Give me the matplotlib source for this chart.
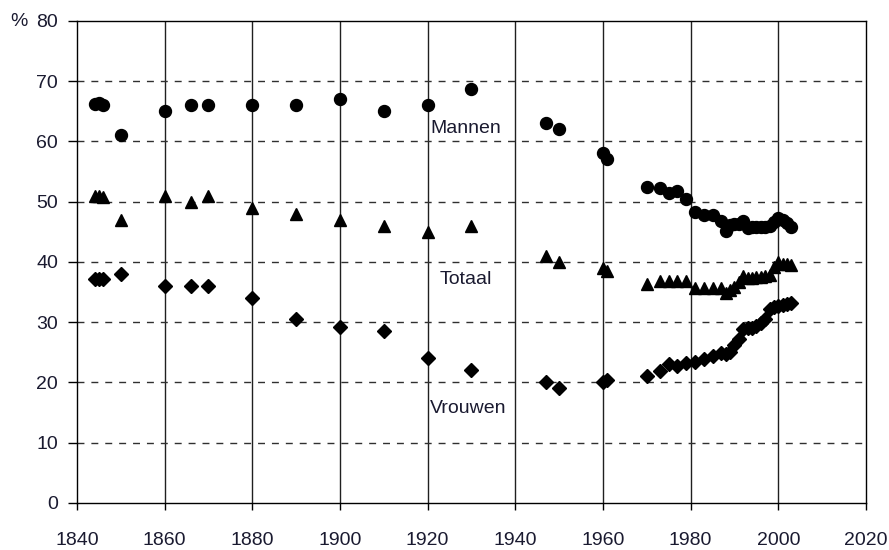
import matplotlib
matplotlib.use('Agg')
import matplotlib.pyplot as plt

# Early observations (census-type years)
years_early = [1844, 1845, 1846, 1850, 1860, 1866, 1870, 1880, 1890, 1900,
               1910, 1920, 1930, 1947, 1950, 1960, 1961]
mannen_early = [66.2, 66.3, 66.0, 61.0, 65.0, 66.0, 66.0, 66.0, 66.0, 67.0,
                65.0, 66.0, 68.7, 63.0, 62.0, 58.0, 57.0]
totaal_early = [51.0, 51.0, 50.8, 47.0, 51.0, 50.0, 51.0, 49.0, 48.0, 47.0,
                46.0, 45.0, 46.0, 41.0, 40.0, 39.0, 38.5]
vrouwen_early = [37.2, 37.2, 37.1, 38.0, 36.0, 36.0, 36.0, 34.0, 30.6, 29.2,
                 28.6, 24.0, 22.0, 20.0, 19.0, 20.0, 20.4]

# Later survey years
years_late = [1970, 1973, 1975, 1977, 1979, 1981, 1983, 1985, 1987, 1988,
              1989, 1990, 1991, 1992, 1993, 1994, 1995, 1996, 1997, 1998,
              1999, 2000, 2001, 2002, 2003]
mannen_late = [52.5, 52.2, 51.5, 51.7, 50.5, 48.3, 47.7, 47.8, 46.7, 45.2,
               46.1, 46.2, 46.3, 46.7, 45.6, 45.7, 45.8, 45.7, 45.7, 45.9,
               46.6, 47.2, 46.9, 46.4, 45.7]
totaal_late = [36.4, 36.8, 36.9, 36.9, 36.8, 35.7, 35.6, 35.7, 35.6, 34.8,
               35.4, 35.9, 36.6, 37.6, 37.3, 37.4, 37.5, 37.5, 37.6, 37.9,
               39.2, 40.0, 39.7, 39.6, 39.4]
vrouwen_late = [21.1, 21.9, 23.0, 22.7, 23.3, 23.4, 23.9, 24.4, 24.8, 24.7,
                25.1, 26.2, 27.2, 28.9, 29.0, 29.1, 29.4, 29.9, 30.5, 32.2,
                32.5, 32.7, 32.8, 33.0, 33.2]

text_color = '#1a1a30'
plt.rcParams['font.family'] = ['Liberation Sans', 'DejaVu Sans']
plt.rcParams['font.size'] = 14

fig = plt.figure(figsize=(8.89, 5.5), dpi=100)
ax = fig.add_axes([0.0866, 0.0855, 0.8875, 0.8768])

years = years_early + years_late
ax.plot(years, mannen_early + mannen_late, 'o', color='black', ms=8.6, zorder=3)
ax.plot(years, totaal_early + totaal_late, '^', color='black', ms=8.2, zorder=3)
ax.plot(years, vrouwen_early + vrouwen_late, 'D', color='black', ms=7.4, zorder=3)

ax.set_xlim(1840, 2020)
ax.set_ylim(0, 80)
ax.set_xticks(range(1840, 2021, 20))
ax.set_yticks(range(0, 81, 10))

# vertical solid grid, horizontal dashed grid
for x in range(1860, 2020, 20):
    ax.axvline(x, color='#202020', lw=1.0, zorder=1)
for y in range(10, 80, 10):
    ax.axhline(y, color='#303030', lw=1.0, ls=(0, (5, 5)), zorder=1)

for s in ax.spines.values():
    s.set_color('black')
    s.set_linewidth(1.0)

ax.tick_params(axis='y', direction='out', length=6.5, width=1, pad=7,
               colors='black', labelcolor=text_color)
ax.tick_params(axis='x', direction='out', length=5, width=1, pad=16,
               colors='black', labelcolor=text_color)

ax.text(1928.8, 62.2, 'Mannen', ha='center', va='center', color=text_color)
ax.text(1928.8, 37.0, 'Totaal', ha='center', va='center', color=text_color)
ax.text(1929.2, 15.6, 'Vrouwen', ha='center', va='center', color=text_color)

fig.text(19 / 889, 1 - 21 / 550, '%', ha='center', va='center', color=text_color)

fig.savefig('out.png', dpi=100)
